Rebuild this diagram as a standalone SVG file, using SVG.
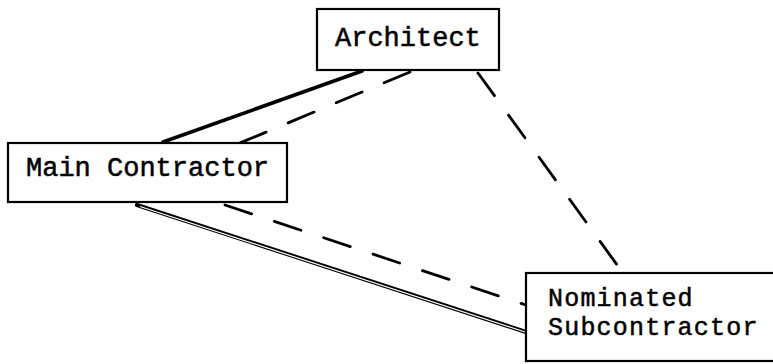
<svg xmlns="http://www.w3.org/2000/svg" width="773" height="364" viewBox="0 0 773 364">
<style>
.box{fill:#fff;stroke:#000;stroke-width:2.2}
.lbl{font-family:"Liberation Mono","Courier New",monospace;font-size:27px;fill:#000;stroke:#000;stroke-width:0.5}
.sm{font-size:25px;letter-spacing:1.2px}
.dash{fill:none;stroke:#000;stroke-width:2.8;stroke-dasharray:28 24;stroke-linecap:round}
.solid{fill:none;stroke:#000;stroke-width:3.6;stroke-linecap:round}
.dbl{fill:none;stroke:#000;stroke-width:4.2;stroke-linecap:round}
.dblin{fill:none;stroke:#fff;stroke-width:1.2}
</style>
<rect width="773" height="364" fill="#fff"/>
<g id="connectors">
<line class="solid" x1="163" y1="142" x2="362" y2="71"/>
<line class="dash" x1="410" y1="72" x2="240" y2="143"/>
<line class="dash" x1="478" y1="73" x2="623" y2="273"/>
<line class="dash" x1="225" y1="205" x2="526" y2="305"/>
<line class="dbl" x1="137" y1="205" x2="526" y2="332"/>
<line class="dblin" x1="140" y1="206.5" x2="525" y2="332"/>
</g>
<g id="architect">
<rect class="box" x="317" y="9" width="182" height="61"/>
<text class="lbl" x="335" y="46">Architect</text>
</g>
<g id="main-contractor">
<rect class="box" x="8" y="143" width="279" height="59"/>
<text class="lbl" x="26" y="176">Main Contractor</text>
</g>
<g id="nominated-subcontractor">
<rect class="box" x="526" y="273" width="260" height="88"/>
<text class="lbl sm" x="548" y="306">Nominated</text>
<text class="lbl sm" x="548" y="335">Subcontractor</text>
</g>
</svg>
